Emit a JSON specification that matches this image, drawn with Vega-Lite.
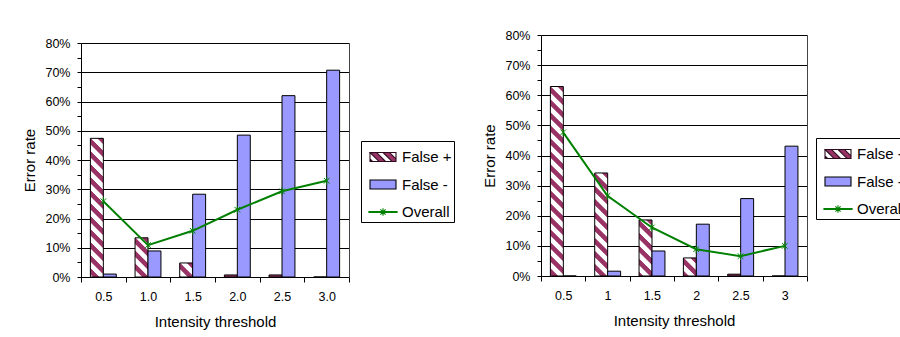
{
"$schema":"https://vega.github.io/schema/vega-lite/v6.json",
"padding":{"left":22,"top":29,"right":0,"bottom":0},
"config":{
 "font":"Liberation Sans",
 "view":{"stroke":null},
 "axis":{"domainColor":"#000","tickColor":"#000","labelColor":"#000","titleColor":"#000","labelFont":"Liberation Sans","titleFont":"Liberation Sans","labelFontSize":12.5,"titleFontSize":15,"titleFontWeight":"normal","gridColor":"#000","gridWidth":1,"domainWidth":1,"tickWidth":1},
 "legend":{"labelFont":"Liberation Sans","labelFontSize":15,"labelColor":"#000","padding":2,"strokeColor":"#000","fillColor":"#fff","symbolSize":676,"symbolOffset":6,"labelOffset":5,"rowPadding":5.5,"symbolOpacity":1,"symbolStrokeWidth":1.1}
},
"datasets":{
 "left":[
  {"x":"0.5","series":"False +","value":0.474},{"x":"1.0","series":"False +","value":0.134},{"x":"1.5","series":"False +","value":0.048},{"x":"2.0","series":"False +","value":0.007},{"x":"2.5","series":"False +","value":0.007},{"x":"3.0","series":"False +","value":0},
  {"x":"0.5","series":"False -","value":0.010},{"x":"1.0","series":"False -","value":0.089},{"x":"1.5","series":"False -","value":0.283},{"x":"2.0","series":"False -","value":0.485},{"x":"2.5","series":"False -","value":0.620},{"x":"3.0","series":"False -","value":0.707},
  {"x":"0.5","series":"Overall","value":0.259},{"x":"1.0","series":"Overall","value":0.109},{"x":"1.5","series":"Overall","value":0.158},{"x":"2.0","series":"Overall","value":0.230},{"x":"2.5","series":"Overall","value":0.293},{"x":"3.0","series":"Overall","value":0.329}
 ],
 "right":[
  {"x":"0.5","series":"False +","value":0.629},{"x":"1","series":"False +","value":0.342},{"x":"1.5","series":"False +","value":0.186},{"x":"2","series":"False +","value":0.060},{"x":"2.5","series":"False +","value":0.006},{"x":"3","series":"False +","value":0},
  {"x":"0.5","series":"False -","value":0},{"x":"1","series":"False -","value":0.016},{"x":"1.5","series":"False -","value":0.083},{"x":"2","series":"False -","value":0.172},{"x":"2.5","series":"False -","value":0.257},{"x":"3","series":"False -","value":0.431},
  {"x":"0.5","series":"Overall","value":0.477},{"x":"1","series":"Overall","value":0.266},{"x":"1.5","series":"Overall","value":0.161},{"x":"2","series":"Overall","value":0.089},{"x":"2.5","series":"Overall","value":0.066},{"x":"3","series":"Overall","value":0.100}
 ]
},
"spacing":27,
"resolve":{"scale":{"fill":"independent","stroke":"independent","shape":"independent","x":"independent","y":"independent"},"legend":{"fill":"independent","stroke":"independent","shape":"independent"}},
"hconcat":[
 {
  "width":268,"height":242,
  "data":{"name":"left"},
  "encoding":{
   "x":{"field":"x","type":"nominal","scale":{"type":"band","paddingInner":0,"paddingOuter":0},"axis":{"title":"Intensity threshold","labelAngle":0,"tickBand":"extent","tickSize":5,"labelPadding":8,"titlePadding":12}}
  },
  "resolve":{"axis":{"y":"independent"}},
  "layer":[
   {"transform":[{"filter":"datum.series !== 'Overall'"}],
    "mark":{"type":"bar","stroke":"#000","strokeWidth":1},
    "encoding":{
     "y":{"field":"value","type":"quantitative","scale":{"domain":[0,0.8],"range":[242,8]},"axis":{"title":"Error rate","values":[0,0.05,0.1,0.15,0.2,0.25,0.3,0.35,0.4,0.45,0.5,0.55,0.6,0.65,0.7,0.75,0.8],"format":".0%","labelExpr":"round(datum.value*100) % 10 === 0 ? datum.label : ''","labelOverlap":false,"grid":true,"gridOpacity":{"condition":{"test":"round(datum.value*100) % 10 !== 0","value":0},"value":1},"tickSize":4,"labelPadding":7,"titlePadding":7}},
     "xOffset":{"field":"series","type":"nominal","scale":{"domain":["False +","False -"],"paddingInner":0,"paddingOuter":0.7245}},
     "fill":{"condition":[
      {"test":"datum.series === 'False +' && datum.x === '0.5'","value":{"gradient":"linear","x1":1,"y1":0,"x2":0.861,"y2":1.4877,"stops":[{"offset":0,"color":"#993366"},{"offset":0.02625,"color":"#993366"},{"offset":0.03125,"color":"#fff"},{"offset":0.0575,"color":"#fff"},{"offset":0.0625,"color":"#993366"},{"offset":0.08875,"color":"#993366"},{"offset":0.09375,"color":"#fff"},{"offset":0.12,"color":"#fff"},{"offset":0.125,"color":"#993366"},{"offset":0.15125,"color":"#993366"},{"offset":0.15625,"color":"#fff"},{"offset":0.1825,"color":"#fff"},{"offset":0.1875,"color":"#993366"},{"offset":0.21375,"color":"#993366"},{"offset":0.21875,"color":"#fff"},{"offset":0.245,"color":"#fff"},{"offset":0.25,"color":"#993366"},{"offset":0.27625,"color":"#993366"},{"offset":0.28125,"color":"#fff"},{"offset":0.3075,"color":"#fff"},{"offset":0.3125,"color":"#993366"},{"offset":0.33875,"color":"#993366"},{"offset":0.34375,"color":"#fff"},{"offset":0.37,"color":"#fff"},{"offset":0.375,"color":"#993366"},{"offset":0.40125,"color":"#993366"},{"offset":0.40625,"color":"#fff"},{"offset":0.4325,"color":"#fff"},{"offset":0.4375,"color":"#993366"},{"offset":0.46375,"color":"#993366"},{"offset":0.46875,"color":"#fff"},{"offset":0.495,"color":"#fff"},{"offset":0.5,"color":"#993366"},{"offset":0.52625,"color":"#993366"},{"offset":0.53125,"color":"#fff"},{"offset":0.5575,"color":"#fff"},{"offset":0.5625,"color":"#993366"},{"offset":0.58875,"color":"#993366"},{"offset":0.59375,"color":"#fff"},{"offset":0.62,"color":"#fff"},{"offset":0.625,"color":"#993366"},{"offset":0.65125,"color":"#993366"},{"offset":0.65625,"color":"#fff"},{"offset":0.6825,"color":"#fff"},{"offset":0.6875,"color":"#993366"},{"offset":0.71375,"color":"#993366"},{"offset":0.71875,"color":"#fff"},{"offset":0.745,"color":"#fff"},{"offset":0.75,"color":"#993366"},{"offset":1,"color":"#993366"}]}},
      {"test":"datum.series === 'False +' && datum.x === '1.0'","value":{"gradient":"linear","x1":1,"y1":0,"x2":-0.5805,"y2":4.784,"stops":[{"offset":0,"color":"#993366"},{"offset":0.02625,"color":"#993366"},{"offset":0.03125,"color":"#fff"},{"offset":0.0575,"color":"#fff"},{"offset":0.0625,"color":"#993366"},{"offset":0.08875,"color":"#993366"},{"offset":0.09375,"color":"#fff"},{"offset":0.12,"color":"#fff"},{"offset":0.125,"color":"#993366"},{"offset":0.15125,"color":"#993366"},{"offset":0.15625,"color":"#fff"},{"offset":0.1825,"color":"#fff"},{"offset":0.1875,"color":"#993366"},{"offset":0.21375,"color":"#993366"},{"offset":0.21875,"color":"#fff"},{"offset":0.245,"color":"#fff"},{"offset":0.25,"color":"#993366"},{"offset":0.27625,"color":"#993366"},{"offset":0.28125,"color":"#fff"},{"offset":0.3075,"color":"#fff"},{"offset":0.3125,"color":"#993366"},{"offset":1,"color":"#993366"}]}},
      {"test":"datum.series === 'False +' && datum.x === '1.5'","value":{"gradient":"linear","x1":1,"y1":0,"x2":-6.3838,"y2":8.005,"stops":[{"offset":0,"color":"#993366"},{"offset":0.02625,"color":"#993366"},{"offset":0.03125,"color":"#fff"},{"offset":0.0575,"color":"#fff"},{"offset":0.0625,"color":"#993366"},{"offset":0.08875,"color":"#993366"},{"offset":0.09375,"color":"#fff"},{"offset":0.12,"color":"#fff"},{"offset":0.125,"color":"#993366"},{"offset":0.15125,"color":"#993366"},{"offset":0.15625,"color":"#fff"},{"offset":0.1825,"color":"#fff"},{"offset":0.1875,"color":"#993366"},{"offset":1,"color":"#993366"}]}},
      {"test":"datum.series === 'False -'","value":"#9999FF"}
     ],"value":"#993366"}
    }},
   {"transform":[{"filter":"datum.series === 'Overall'"}],
    "mark":{"type":"line","strokeWidth":2,"color":"#008000"},
    "encoding":{"y":{"field":"value","type":"quantitative","scale":{"domain":[0,0.8],"range":[242,8]},"axis":{"orient":"right","labels":false,"ticks":false,"grid":false,"title":null,"domainColor":"#444"}}}},
   {"transform":[{"filter":"datum.series === 'Overall'"}],
    "mark":{"type":"point","shape":"M-0.7,-0.7L0.7,0.7M-0.7,0.7L0.7,-0.7M0,-1L0,1","size":64,"filled":false,"color":"#008000","strokeWidth":1,"opacity":1},
    "encoding":{"y":{"field":"value","type":"quantitative","scale":{"domain":[0,0.8],"range":[242,8]},"axis":null}}},
   {"transform":[{"filter":"datum.series === 'Overall'"}],
    "mark":{"type":"point","filled":true,"opacity":0},
    "encoding":{
     "y":{"field":"value","type":"quantitative","scale":{"domain":[0,0.8],"range":[242,8]},"axis":null},
     "fill":{"field":"series","type":"nominal","scale":{"domain":["False +","False -","Overall"],"range":["#993366","#9999FF","#008000"]},"legend":{"title":null,"orient":"none","legendX":280,"legendY":106}},
     "stroke":{"field":"series","type":"nominal","scale":{"domain":["False +","False -","Overall"],"range":["#2a0a1c","#000","#008000"]},"legend":{"title":null,"orient":"none","legendX":280,"legendY":106}},
     "shape":{"field":"series","type":"nominal","scale":{"domain":["False +","False -","Overall"],"range":["M-1,-0.35H1V0.35H-1ZM-1,-0.35V0.35H1V-0.35ZM-1,-0.35L-0.5,-0.35L0.2,0.35L-0.3,0.35ZM0,-0.35L0.5,-0.35L1,0.15L1,0.35L0.7,0.35ZM-1,0.15L-0.8,0.35L-1,0.35Z","M-1,-0.35H1V0.35H-1Z","M-1.08,-0.035H1.08V0.035H-1.08ZM-0.2,-0.2L0.2,0.2M-0.2,0.2L0.2,-0.2M0,-0.28V0.28"]},"legend":{"title":null,"orient":"none","legendX":280,"legendY":106}}
    }}
  ]
 },
 {
  "width":266,"height":241,
  "data":{"name":"right"},
  "encoding":{
   "x":{"field":"x","type":"nominal","scale":{"type":"band","paddingInner":0,"paddingOuter":0},"axis":{"title":"Intensity threshold","labelAngle":0,"tickBand":"extent","tickSize":5,"labelPadding":8,"titlePadding":12}}
  },
  "resolve":{"axis":{"y":"independent"}},
  "layer":[
   {"transform":[{"filter":"datum.series !== 'Overall'"}],
    "mark":{"type":"bar","stroke":"#000","strokeWidth":1},
    "encoding":{
     "y":{"field":"value","type":"quantitative","scale":{"domain":[0,0.8]},"axis":{"title":"Error rate","values":[0,0.05,0.1,0.15,0.2,0.25,0.3,0.35,0.4,0.45,0.5,0.55,0.6,0.65,0.7,0.75,0.8],"format":".0%","labelExpr":"round(datum.value*100) % 10 === 0 ? datum.label : ''","labelOverlap":false,"grid":true,"gridOpacity":{"condition":{"test":"round(datum.value*100) % 10 !== 0","value":0},"value":1},"tickSize":4,"labelPadding":7,"titlePadding":7}},
     "xOffset":{"field":"series","type":"nominal","scale":{"domain":["False +","False -"],"paddingInner":0,"paddingOuter":0.7245}},
     "fill":{"condition":[
      {"test":"datum.series === 'False +' && datum.x === '0.5'","value":{"gradient":"linear","x1":1,"y1":0,"x2":0.9259,"y2":1.0926,"stops":[{"offset":0,"color":"#993366"},{"offset":0.02625,"color":"#993366"},{"offset":0.03125,"color":"#fff"},{"offset":0.0575,"color":"#fff"},{"offset":0.0625,"color":"#993366"},{"offset":0.08875,"color":"#993366"},{"offset":0.09375,"color":"#fff"},{"offset":0.12,"color":"#fff"},{"offset":0.125,"color":"#993366"},{"offset":0.15125,"color":"#993366"},{"offset":0.15625,"color":"#fff"},{"offset":0.1825,"color":"#fff"},{"offset":0.1875,"color":"#993366"},{"offset":0.21375,"color":"#993366"},{"offset":0.21875,"color":"#fff"},{"offset":0.245,"color":"#fff"},{"offset":0.25,"color":"#993366"},{"offset":0.27625,"color":"#993366"},{"offset":0.28125,"color":"#fff"},{"offset":0.3075,"color":"#fff"},{"offset":0.3125,"color":"#993366"},{"offset":0.33875,"color":"#993366"},{"offset":0.34375,"color":"#fff"},{"offset":0.37,"color":"#fff"},{"offset":0.375,"color":"#993366"},{"offset":0.40125,"color":"#993366"},{"offset":0.40625,"color":"#fff"},{"offset":0.4325,"color":"#fff"},{"offset":0.4375,"color":"#993366"},{"offset":0.46375,"color":"#993366"},{"offset":0.46875,"color":"#fff"},{"offset":0.495,"color":"#fff"},{"offset":0.5,"color":"#993366"},{"offset":0.52625,"color":"#993366"},{"offset":0.53125,"color":"#fff"},{"offset":0.5575,"color":"#fff"},{"offset":0.5625,"color":"#993366"},{"offset":0.58875,"color":"#993366"},{"offset":0.59375,"color":"#fff"},{"offset":0.62,"color":"#fff"},{"offset":0.625,"color":"#993366"},{"offset":0.65125,"color":"#993366"},{"offset":0.65625,"color":"#fff"},{"offset":0.6825,"color":"#fff"},{"offset":0.6875,"color":"#993366"},{"offset":0.71375,"color":"#993366"},{"offset":0.71875,"color":"#fff"},{"offset":0.745,"color":"#fff"},{"offset":0.75,"color":"#993366"},{"offset":0.77625,"color":"#993366"},{"offset":0.78125,"color":"#fff"},{"offset":0.8075,"color":"#fff"},{"offset":0.8125,"color":"#993366"},{"offset":0.83875,"color":"#993366"},{"offset":0.84375,"color":"#fff"},{"offset":0.87,"color":"#fff"},{"offset":0.875,"color":"#993366"},{"offset":0.90125,"color":"#993366"},{"offset":0.90625,"color":"#fff"},{"offset":0.9325,"color":"#fff"},{"offset":0.9375,"color":"#993366"},{"offset":0.96375,"color":"#993366"},{"offset":0.96875,"color":"#fff"},{"offset":0.995,"color":"#fff"},{"offset":1,"color":"#993366"}]}},
      {"test":"datum.series === 'False +' && datum.x === '1'","value":{"gradient":"linear","x1":1,"y1":0,"x2":0.7517,"y2":1.9885,"stops":[{"offset":0,"color":"#993366"},{"offset":0.02625,"color":"#993366"},{"offset":0.03125,"color":"#fff"},{"offset":0.0575,"color":"#fff"},{"offset":0.0625,"color":"#993366"},{"offset":0.08875,"color":"#993366"},{"offset":0.09375,"color":"#fff"},{"offset":0.12,"color":"#fff"},{"offset":0.125,"color":"#993366"},{"offset":0.15125,"color":"#993366"},{"offset":0.15625,"color":"#fff"},{"offset":0.1825,"color":"#fff"},{"offset":0.1875,"color":"#993366"},{"offset":0.21375,"color":"#993366"},{"offset":0.21875,"color":"#fff"},{"offset":0.245,"color":"#fff"},{"offset":0.25,"color":"#993366"},{"offset":0.27625,"color":"#993366"},{"offset":0.28125,"color":"#fff"},{"offset":0.3075,"color":"#fff"},{"offset":0.3125,"color":"#993366"},{"offset":0.33875,"color":"#993366"},{"offset":0.34375,"color":"#fff"},{"offset":0.37,"color":"#fff"},{"offset":0.375,"color":"#993366"},{"offset":0.40125,"color":"#993366"},{"offset":0.40625,"color":"#fff"},{"offset":0.4325,"color":"#fff"},{"offset":0.4375,"color":"#993366"},{"offset":0.46375,"color":"#993366"},{"offset":0.46875,"color":"#fff"},{"offset":0.495,"color":"#fff"},{"offset":0.5,"color":"#993366"},{"offset":0.52625,"color":"#993366"},{"offset":0.53125,"color":"#fff"},{"offset":0.5575,"color":"#fff"},{"offset":0.5625,"color":"#993366"},{"offset":0.58875,"color":"#993366"},{"offset":0.59375,"color":"#fff"},{"offset":0.62,"color":"#fff"},{"offset":0.625,"color":"#993366"},{"offset":1,"color":"#993366"}]}},
      {"test":"datum.series === 'False +' && datum.x === '1.5'","value":{"gradient":"linear","x1":1,"y1":0,"x2":0.1898,"y2":3.5282,"stops":[{"offset":0,"color":"#993366"},{"offset":0.02625,"color":"#993366"},{"offset":0.03125,"color":"#fff"},{"offset":0.0575,"color":"#fff"},{"offset":0.0625,"color":"#993366"},{"offset":0.08875,"color":"#993366"},{"offset":0.09375,"color":"#fff"},{"offset":0.12,"color":"#fff"},{"offset":0.125,"color":"#993366"},{"offset":0.15125,"color":"#993366"},{"offset":0.15625,"color":"#fff"},{"offset":0.1825,"color":"#fff"},{"offset":0.1875,"color":"#993366"},{"offset":0.21375,"color":"#993366"},{"offset":0.21875,"color":"#fff"},{"offset":0.245,"color":"#fff"},{"offset":0.25,"color":"#993366"},{"offset":0.27625,"color":"#993366"},{"offset":0.28125,"color":"#fff"},{"offset":0.3075,"color":"#fff"},{"offset":0.3125,"color":"#993366"},{"offset":0.33875,"color":"#993366"},{"offset":0.34375,"color":"#fff"},{"offset":0.37,"color":"#fff"},{"offset":0.375,"color":"#993366"},{"offset":1,"color":"#993366"}]}},
      {"test":"datum.series === 'False +' && datum.x === '2'","value":{"gradient":"linear","x1":1,"y1":0,"x2":-4.4258,"y2":7.6366,"stops":[{"offset":0,"color":"#993366"},{"offset":0.02625,"color":"#993366"},{"offset":0.03125,"color":"#fff"},{"offset":0.0575,"color":"#fff"},{"offset":0.0625,"color":"#993366"},{"offset":0.08875,"color":"#993366"},{"offset":0.09375,"color":"#fff"},{"offset":0.12,"color":"#fff"},{"offset":0.125,"color":"#993366"},{"offset":0.15125,"color":"#993366"},{"offset":0.15625,"color":"#fff"},{"offset":0.1825,"color":"#fff"},{"offset":0.1875,"color":"#993366"},{"offset":1,"color":"#993366"}]}},
      {"test":"datum.series === 'False -'","value":"#9999FF"}
     ],"value":"#993366"}
    }},
   {"transform":[{"filter":"datum.series === 'Overall'"}],
    "mark":{"type":"line","strokeWidth":2,"color":"#008000"},
    "encoding":{"y":{"field":"value","type":"quantitative","scale":{"domain":[0,0.8]},"axis":{"orient":"right","labels":false,"ticks":false,"grid":false,"title":null,"domainColor":"#444"}}}},
   {"transform":[{"filter":"datum.series === 'Overall'"}],
    "mark":{"type":"point","shape":"M-0.7,-0.7L0.7,0.7M-0.7,0.7L0.7,-0.7M0,-1L0,1","size":64,"filled":false,"color":"#008000","strokeWidth":1,"opacity":1},
    "encoding":{"y":{"field":"value","type":"quantitative","scale":{"domain":[0,0.8]},"axis":null}}},
   {"transform":[{"filter":"datum.series === 'Overall'"}],
    "mark":{"type":"point","filled":true,"opacity":0},
    "encoding":{
     "y":{"field":"value","type":"quantitative","scale":{"domain":[0,0.8]},"axis":null},
     "fill":{"field":"series","type":"nominal","scale":{"domain":["False +","False -","Overall"],"range":["#993366","#9999FF","#008000"]},"legend":{"title":null,"orient":"none","legendX":275,"legendY":103}},
     "stroke":{"field":"series","type":"nominal","scale":{"domain":["False +","False -","Overall"],"range":["#2a0a1c","#000","#008000"]},"legend":{"title":null,"orient":"none","legendX":275,"legendY":103}},
     "shape":{"field":"series","type":"nominal","scale":{"domain":["False +","False -","Overall"],"range":["M-1,-0.35H1V0.35H-1ZM-1,-0.35V0.35H1V-0.35ZM-1,-0.35L-0.5,-0.35L0.2,0.35L-0.3,0.35ZM0,-0.35L0.5,-0.35L1,0.15L1,0.35L0.7,0.35ZM-1,0.15L-0.8,0.35L-1,0.35Z","M-1,-0.35H1V0.35H-1Z","M-1.08,-0.035H1.08V0.035H-1.08ZM-0.2,-0.2L0.2,0.2M-0.2,0.2L0.2,-0.2M0,-0.28V0.28"]},"legend":{"title":null,"orient":"none","legendX":275,"legendY":103}}
    }}
  ]
 }
]
}
